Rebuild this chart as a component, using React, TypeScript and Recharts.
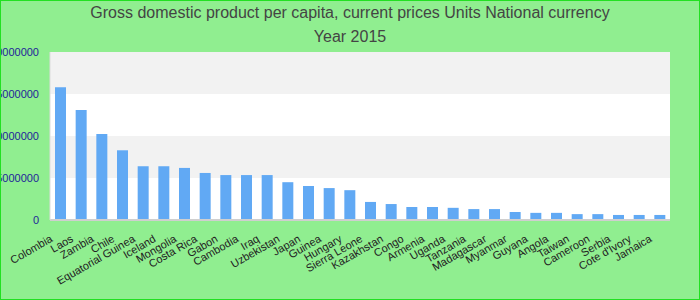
import React from 'react';
import { BarChart, Bar, XAxis, YAxis, CartesianGrid, ReferenceLine } from 'recharts';

// countries, sorted by GDP per capita (national currency), year 2015
const countries = [
  'Colombia', 'Laos', 'Zambia', 'Chile', 'Equatorial Guinea', 'Iceland', 'Mongolia',
  'Costa Rica', 'Gabon', 'Cambodia', 'Iraq', 'Uzbekistan', 'Japan', 'Guinea', 'Hungary',
  'Sierra Leone', 'Kazakhstan', 'Congo', 'Armenia', 'Uganda', 'Tanzania', 'Madagascar',
  'Myanmar', 'Guyana', 'Angola', 'Taiwan', 'Cameroon', 'Serbia', "Cote d'Ivory", 'Jamaica',
];

const gdpValues = [
  15800000, 13100000, 10250000, 8300000, 6400000, 6400000, 6200000,
  5600000, 5350000, 5350000, 5350000, 4500000, 4050000, 3800000, 3550000,
  2150000, 1900000, 1550000, 1550000, 1450000, 1300000, 1300000,
  950000, 850000, 850000, 700000, 700000, 600000, 600000, 600000,
];

const yTicks = [0, 5000000, 10000000, 15000000, 20000000];

const titleLines = [
  'Gross domestic product per capita, current prices Units National currency',
  'Year 2015',
];

const data = countries.map((name, i) => ({ name, value: gdpValues[i] }));

const FONT = '"Liberation Sans", Arial, sans-serif';

// rotated category label, anchored at its end
const CountryTick = (props: any) => {
  const { x, y, payload } = props;
  const tx = x - 7;
  const ty = y + 13;
  return (
    <text
      x={tx}
      y={ty}
      transform={`rotate(-30, ${tx}, ${ty})`}
      textAnchor="end"
      fontSize={11}
      fontFamily={FONT}
      fill="#222"
    >
      {payload.value}
    </text>
  );
};

const App: React.FC = () => {
  return (
    <div
      style={{
        position: 'absolute',
        left: 0,
        top: 0,
        width: 700,
        height: 300,
        boxSizing: 'border-box',
        border: '1px solid #22e022',
        background: '#90ee90',
        fontFamily: FONT,
        overflow: 'hidden',
      }}
    >
      {titleLines.map((line, i) => (
        <div
          key={i}
          style={{
            position: 'absolute',
            left: 0,
            width: 698,
            top: 2 + i * 24,
            textAlign: 'center',
            fontSize: 16,
            color: '#444',
            lineHeight: '20px',
          }}
        >
          {line}
        </div>
      ))}
      <div style={{ position: 'absolute', left: -1, top: -1 }}>
        <BarChart
          width={700}
          height={300}
          data={data}
          margin={{ top: 52, right: 30, bottom: 0, left: 0 }}
        >
          <CartesianGrid
            vertical={false}
            strokeOpacity={0}
            horizontalFill={['#f2f2f2', '#ffffff']}
          />
          <XAxis
            dataKey="name"
            interval={0}
            height={80}
            tickLine={false}
            axisLine={{ stroke: '#cfcfcf', strokeWidth: 2 }}
            tick={<CountryTick />}
          />
          <XAxis
            xAxisId="top"
            dataKey="name"
            orientation="top"
            height={0}
            tick={false}
            tickLine={false}
            axisLine={{ stroke: '#dcdcdc' }}
          />
          <YAxis
            width={50}
            domain={[0, 20000000]}
            ticks={yTicks}
            interval={0}
            tickLine={false}
            tickMargin={5}
            axisLine={{ stroke: '#dcdcdc' }}
            tick={{ fill: '#1f1f99', fontSize: 11, fontFamily: FONT }}
          />
          <YAxis
            yAxisId="right"
            orientation="right"
            width={0}
            domain={[0, 20000000]}
            tick={false}
            tickLine={false}
            axisLine={{ stroke: '#cfcfcf', strokeWidth: 2 }}
          />
          <Bar dataKey="value" fill="#61a9f4" barSize={11} isAnimationActive={false} />
        </BarChart>
      </div>
    </div>
  );
};

export default App;
